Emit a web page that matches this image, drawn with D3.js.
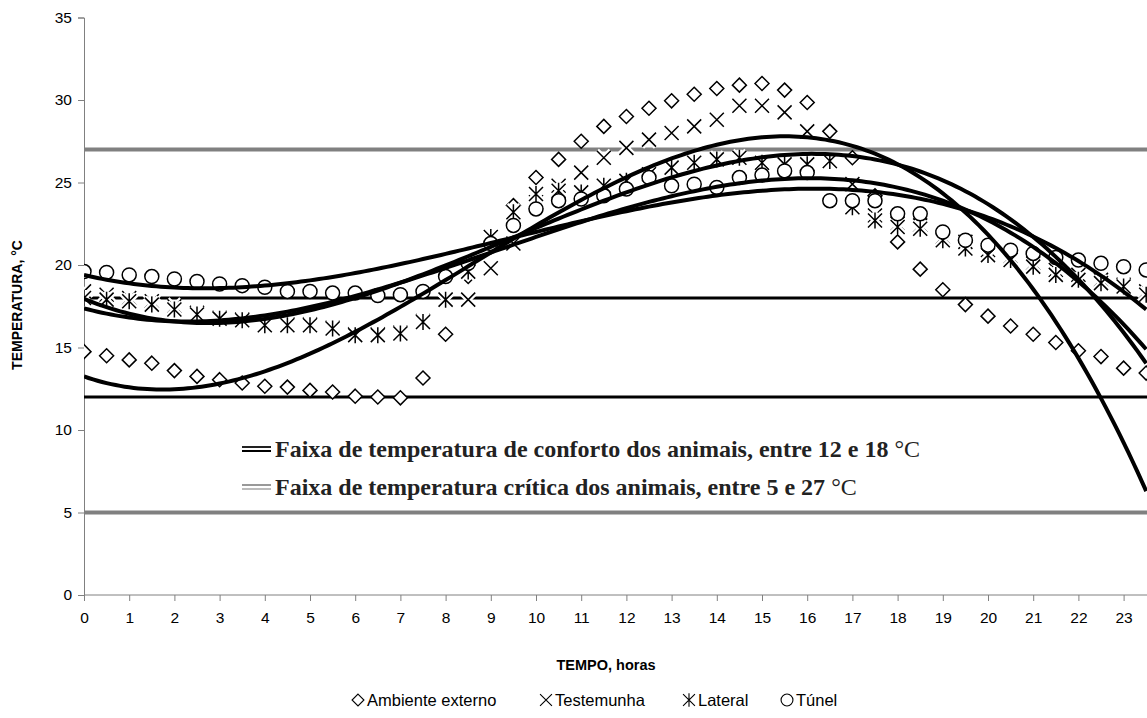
<!DOCTYPE html>
<html>
<head>
<meta charset="utf-8">
<script src="https://cdn.jsdelivr.net/npm/d3@7"></script>
<style>
  body { margin: 0; background: #fff; }
  svg { display: block; font-family: "Liberation Sans", Arial, sans-serif; }
</style>
</head>
<body>
<div id="chart"></div>
<script>
const width = 1147;
const height = 718;
const margin = { top: 17.5, left: 84, bottom: 123 };

// half-hour readings, 0 to 23.5 h
const hours = [0, 0.5, 1, 1.5, 2, 2.5, 3, 3.5, 4, 4.5, 5, 5.5, 6, 6.5, 7, 7.5,
  8, 8.5, 9, 9.5, 10, 10.5, 11, 11.5, 12, 12.5, 13, 13.5, 14, 14.5, 15, 15.5,
  16, 16.5, 17, 17.5, 18, 18.5, 19, 19.5, 20, 20.5, 21, 21.5, 22, 22.5, 23, 23.5];

const ambiente = [14.75, 14.5, 14.25, 14.05, 13.6, 13.25, 13.05, 12.85, 12.65, 12.6, 12.4, 12.3,
  12.05, 12.0, 11.95, 13.15, 15.8, 19.3, 21.4, 23.6, 25.3, 26.4, 27.5, 28.4,
  29.0, 29.5, 29.95, 30.35, 30.7, 30.9, 31.0, 30.6, 29.85, 28.1, 26.5, 24.2,
  21.4, 19.75, 18.5, 17.6, 16.9, 16.3, 15.8, 15.3, 14.8, 14.45, 13.75, 13.45];

const testemunha = [18.4, 18.2, 18.0, 17.8, 17.5, 17.1, 16.8, 16.7, 16.4, 16.4, 16.4, 16.2,
  15.8, 15.8, 15.9, 16.6, 17.9, 17.9, 19.8, 21.3, 23.8, 24.8, 25.6, 26.5,
  27.1, 27.6, 28.0, 28.4, 28.8, 29.65, 29.65, 29.25, 28.1, 26.3, 24.9, 23.0,
  22.5, 22.4, 21.7, 21.4, 20.9, 20.5, 20.1, 19.7, 19.4, 19.1, 18.8, 18.4];

const lateral = [18.0, 17.9, 17.8, 17.6, 17.3, 17.0, 16.75, 16.65, 16.35, 16.35, 16.35, 16.15,
  15.75, 15.75, 15.85, 16.55, 17.9, 19.6, 21.7, 23.2, 24.3, 24.5, 24.4, 24.8,
  25.1, 25.5, 25.9, 26.2, 26.4, 26.5, 26.2, 26.1, 26.1, 26.3, 23.5, 22.7,
  22.3, 22.2, 21.5, 21.0, 20.6, 20.3, 19.9, 19.4, 19.1, 18.9, 18.7, 18.2];

const tunel = [19.6, 19.55, 19.4, 19.3, 19.15, 19.0, 18.85, 18.75, 18.65, 18.4, 18.4, 18.3,
  18.3, 18.15, 18.2, 18.4, 19.3, 20.1, 21.3, 22.4, 23.4, 23.9, 24.0, 24.2,
  24.6, 25.3, 24.8, 24.9, 24.7, 25.3, 25.45, 25.7, 25.6, 23.9, 23.9, 23.9,
  23.1, 23.1, 22.0, 21.5, 21.2, 20.9, 20.7, 20.45, 20.3, 20.1, 19.9, 19.7];

const seriesNames = ["Ambiente externo", "Testemunha", "Lateral", "Túnel"];
const seriesShapes = ["diamond", "x", "star", "circle"];

// comfort and critical ranges
const limitValues = [27, 18, 12, 5];
const limitColors = ["#808080", "#000", "#000", "#808080"];
const rangeNotes = [
  { bold: "Faixa de temperatura de conforto dos animais, entre 12 e 18", unit: " °C", color: "#222" },
  { bold: "Faixa de temperatura crítica dos animais, entre 5 e 27", unit: " °C", color: "#999" }
];

const yTicks = [0, 5, 10, 15, 20, 25, 30, 35];
const xTicks = d3.range(0, 24);

const svg = d3.select("#chart").append("svg")
  .attr("width", width).attr("height", height);

const x = d3.scaleLinear().domain([0, 24]).range([margin.left, margin.left + 24 * 45.2]);
const y = d3.scaleLinear().domain([0, 35]).range([height - margin.bottom, margin.top]);

svg.append("defs").append("clipPath").attr("id", "plot")
  .append("rect").attr("x", x(0)).attr("y", y(35) - 10)
  .attr("width", x(24) - x(0)).attr("height", y(0) - y(35) + 10);

// axes
const xAxis = svg.append("g")
  .attr("transform", `translate(0,${y(0)})`)
  .call(d3.axisBottom(x).tickValues(xTicks).tickSize(6).tickPadding(11).tickFormat(d3.format("d")));
const yAxis = svg.append("g")
  .attr("transform", `translate(${x(0)},0)`)
  .call(d3.axisLeft(y).tickValues(yTicks).tickSize(6).tickPadding(6));
[xAxis, yAxis].forEach((a) => {
  a.select(".domain").attr("stroke", "#808080");
  a.selectAll(".tick line").attr("stroke", "#808080");
  a.selectAll("text").attr("font-size", 15.5).attr("fill", "#000")
    .attr("font-family", "'Liberation Sans', Arial, sans-serif");
});
xAxis.select(".domain").attr("d", `M${x(0)},0H${width}`);

const plot = svg.append("g").attr("clip-path", "url(#plot)");

// range limit lines
plot.selectAll("line.limit").data(limitValues).join("line")
  .attr("class", "limit")
  .attr("x1", x(0)).attr("x2", x(24))
  .attr("y1", (d) => y(d)).attr("y2", (d) => y(d))
  .attr("stroke", (d, i) => limitColors[i])
  .attr("stroke-width", (d, i) => (i === 0 || i === 3 ? 4 : 3));

// markers
const s = 7;
function markerPath(shape) {
  if (shape === "diamond") return `M0,${-s}L${s},0L0,${s}L${-s},0Z`;
  if (shape === "x") return `M${-s},${-s}L${s},${s}M${-s},${s}L${s},${-s}`;
  if (shape === "star") return `M${-s},${-s}L${s},${s}M${-s},${s}L${s},${-s}M0,${-s - 1}L0,${s + 1}`;
  return d3.arc()({ innerRadius: 0, outerRadius: s, startAngle: 0, endAngle: 2 * Math.PI });
}

const allSeries = [ambiente, testemunha, lateral, tunel];
allSeries.forEach((vals, k) => {
  const shape = seriesShapes[k];
  const g = plot.append("g");
  const pts = hours.map((h, i) => [h, vals[i]]);
  if (shape === "x" || shape === "star") {
    g.selectAll("path.halo").data(pts).join("path")
      .attr("transform", (d) => `translate(${x(d[0])},${y(d[1])})`)
      .attr("d", markerPath(shape))
      .attr("fill", "none").attr("stroke", "#fff").attr("stroke-width", 6);
  }
  g.selectAll("path.mk").data(pts).join("path")
    .attr("class", "mk")
    .attr("transform", (d) => `translate(${x(d[0])},${y(d[1])})`)
    .attr("d", markerPath(shape))
    .attr("fill", shape === "diamond" || shape === "circle" ? "#fff" : "none")
    .attr("stroke", "#000").attr("stroke-width", 1.5);
});

// cubic least-squares trendlines
function cubicFit(xs, ys) {
  const n = 4;
  const A = d3.range(n).map(() => new Array(n + 1).fill(0));
  xs.forEach((xv, i) => {
    for (let r = 0; r < n; r++) {
      for (let c = 0; c < n; c++) A[r][c] += Math.pow(xv, r + c);
      A[r][n] += ys[i] * Math.pow(xv, r);
    }
  });
  for (let c = 0; c < n; c++) {
    let p = c;
    for (let r = c + 1; r < n; r++) if (Math.abs(A[r][c]) > Math.abs(A[p][c])) p = r;
    [A[c], A[p]] = [A[p], A[c]];
    for (let r = 0; r < n; r++) {
      if (r === c) continue;
      const f = A[r][c] / A[c][c];
      for (let k = c; k <= n; k++) A[r][k] -= f * A[c][k];
    }
  }
  const coef = A.map((row, i) => row[n] / row[i]);
  return (t) => coef[0] + coef[1] * t + coef[2] * t * t + coef[3] * t * t * t;
}

const line = d3.line().x((d) => x(d[0])).y((d) => y(d[1]));
allSeries.forEach((vals) => {
  const f = cubicFit(hours, vals);
  const samples = d3.range(0, 23.5 + 1e-9, 0.1).map((t) => [t, f(t)]);
  plot.append("path").attr("d", line(samples))
    .attr("fill", "none").attr("stroke", "#000").attr("stroke-width", 4);
});

// notes for the range lines
rangeNotes.forEach((n, i) => {
  const cy = 449 + i * 38;
  const ic = svg.append("g");
  ic.append("line").attr("x1", 242).attr("x2", 271).attr("y1", cy - 2).attr("y2", cy - 2)
    .attr("stroke", n.color).attr("stroke-width", 2);
  ic.append("line").attr("x1", 242).attr("x2", 271).attr("y1", cy + 2).attr("y2", cy + 2)
    .attr("stroke", i === 0 ? "#000" : "#bbb").attr("stroke-width", 2);
  const t = svg.append("text").attr("x", 275).attr("y", cy + 8)
    .attr("font-family", "'Liberation Serif', 'Times New Roman', serif")
    .attr("font-size", 24).attr("fill", "#222");
  t.append("tspan").attr("font-weight", "bold").text(n.bold);
  t.append("tspan").text(n.unit);
});

// axis titles
svg.append("text").attr("x", 606).attr("y", 670).attr("text-anchor", "middle")
  .attr("font-size", 14.5).attr("font-weight", "bold").text("TEMPO, horas");
svg.append("text").attr("transform", "translate(22,305) rotate(-90)")
  .attr("text-anchor", "middle").attr("font-size", 14).attr("font-weight", "bold")
  .text("TEMPERATURA, °C");

// legend
const legendX = [358, 546, 689, 787];
const lg = svg.append("g").attr("transform", "translate(0,700)");
seriesNames.forEach((name, i) => {
  lg.append("path").attr("transform", `translate(${legendX[i]},0) scale(0.85)`)
    .attr("d", markerPath(seriesShapes[i]))
    .attr("fill", "none").attr("stroke", "#000").attr("stroke-width", 1.3);
  lg.append("text").attr("x", legendX[i] + 9).attr("y", 6)
    .attr("font-size", 16.5).text(name);
});
</script>
</body>
</html>
